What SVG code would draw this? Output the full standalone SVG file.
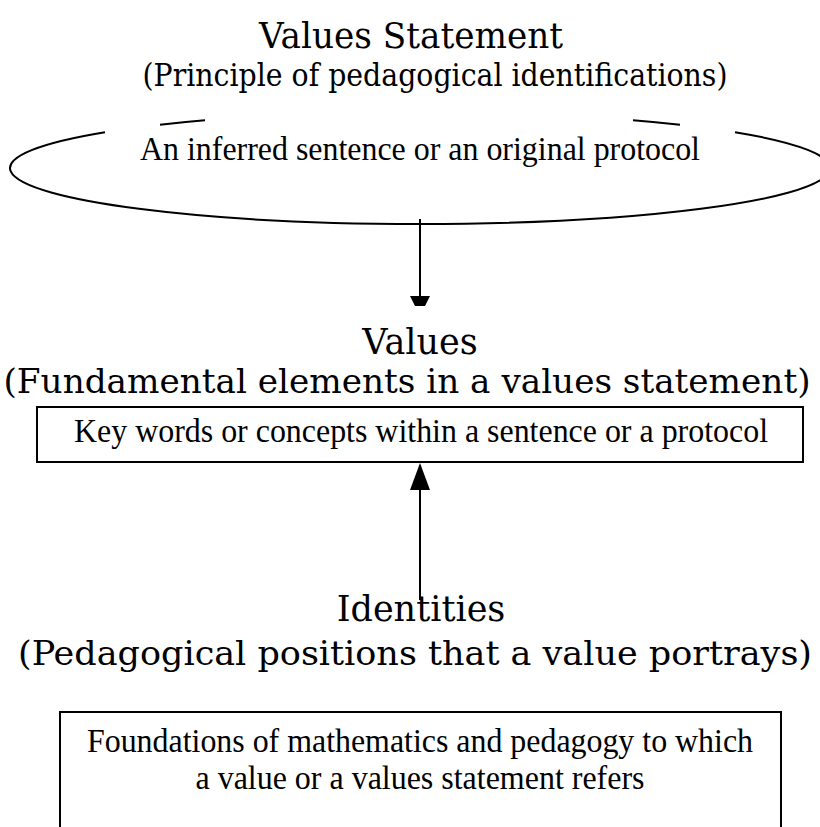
<svg xmlns="http://www.w3.org/2000/svg" width="820" height="827" viewBox="0 0 820 827">
<style>
.hd{font-family:"DejaVu Serif","Liberation Serif",serif;fill:#000;text-anchor:middle}
.bd{font-family:"Liberation Serif","Times New Roman",serif;font-size:33px;fill:#000;text-anchor:middle}
.ln{fill:none;stroke:#000;stroke-width:2}
</style>
<rect width="820" height="827" fill="#fff"/>
<g id="values-statement">
<text class="hd" x="411" y="48" font-size="35" textLength="304" lengthAdjust="spacingAndGlyphs">Values Statement</text>
<text class="hd" x="435" y="86" font-size="31" textLength="585" lengthAdjust="spacingAndGlyphs">(Principle of pedagogical identifications)</text>
<path class="ln" d="M105,132.2 A410,56 0 1 0 735,132.2"/>
<path class="ln" d="M160,124.7 A410,56 0 0 1 205,120.3"/>
<path class="ln" d="M633,120.2 A410,56 0 0 1 680,124.7"/>
<text class="bd" x="420" y="160" textLength="560" lengthAdjust="spacingAndGlyphs">An inferred sentence or an original protocol</text>
</g>
<g id="values">
<text class="hd" x="420" y="354" font-size="35">Values</text>
<text class="hd" x="407" y="393" font-size="33" textLength="807" lengthAdjust="spacingAndGlyphs">(Fundamental elements in a values statement)</text>
<rect class="ln" x="37" y="407" width="766" height="55"/>
<text class="bd" x="421" y="442" textLength="694" lengthAdjust="spacingAndGlyphs">Key words or concepts within a sentence or a protocol</text>
</g>
<g id="identities">
<text class="hd" x="421" y="621" font-size="35">Identities</text>
<text class="hd" x="415" y="665" font-size="34" textLength="794" lengthAdjust="spacingAndGlyphs">(Pedagogical positions that a value portrays)</text>
<path class="ln" d="M60,830 V712 H781 V830"/>
<text class="bd" x="420" y="752" textLength="666" lengthAdjust="spacingAndGlyphs">Foundations of mathematics and pedagogy to which</text>
<text class="bd" x="420" y="789" textLength="449" lengthAdjust="spacingAndGlyphs">a value or a values statement refers</text>
</g>
<g id="connectors">
<line class="ln" x1="420" y1="219" x2="420" y2="298"/>
<polygon points="410,296 430,296 425,306 415,306" fill="#000"/>
<line class="ln" x1="420" y1="600" x2="420" y2="486"/>
<polygon points="420,463 410,490 430,490" fill="#000"/>
</g>
</svg>
